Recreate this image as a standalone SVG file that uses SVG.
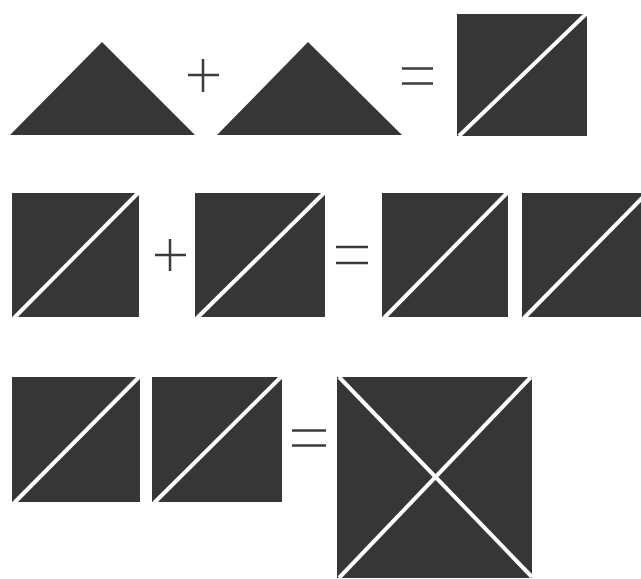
<svg xmlns="http://www.w3.org/2000/svg" width="641" height="579" viewBox="0 0 641 579">
<style>
.shape{fill:#363636}
.cut{stroke:#ffffff;stroke-width:4;stroke-linecap:butt;fill:none}
.op{stroke:#3c3c3c;stroke-width:2.5;fill:none}
</style>
<rect width="641" height="579" fill="#ffffff"/>
<g id="row1">
  <g id="tri1"><polygon class="shape" points="102,42 10,135 195,135"/></g>
  <g id="plus1"><path class="op" d="M188,75 H219 M203,59 V92"/></g>
  <g id="tri2"><polygon class="shape" points="308,42 217,135 402,135"/></g>
  <g id="eq1"><path class="op" d="M402,68.5 H433 M402,83.5 H433"/></g>
  <g id="sq1"><rect class="shape" x="457" y="14" width="130" height="122"/><line class="cut" x1="459" y1="136" x2="587" y2="13"/></g>
</g>
<g id="row2">
  <g id="sq2"><rect class="shape" x="12" y="193" width="127" height="124"/><line class="cut" x1="14" y1="318" x2="139" y2="192"/></g>
  <g id="plus2"><path class="op" d="M155,255 H186 M170,239 V271"/></g>
  <g id="sq3"><rect class="shape" x="195" y="193" width="130" height="124"/><line class="cut" x1="197" y1="318" x2="325" y2="192"/></g>
  <g id="eq2"><path class="op" d="M336,247 H368 M336,263 H368"/></g>
  <g id="sq4"><rect class="shape" x="382" y="193" width="126" height="124"/><line class="cut" x1="384" y1="318" x2="508" y2="192"/></g>
  <g id="sq5"><rect class="shape" x="522" y="193" width="126" height="124"/><line class="cut" x1="524" y1="318" x2="648" y2="192"/></g>
</g>
<g id="row3">
  <g id="sq6"><rect class="shape" x="12" y="377" width="128" height="125"/><line class="cut" x1="14" y1="503" x2="140" y2="376"/></g>
  <g id="sq7"><rect class="shape" x="152" y="377" width="130" height="125"/><line class="cut" x1="154" y1="503" x2="282" y2="376"/></g>
  <g id="eq3"><path class="op" d="M292,430.5 H326 M292,445.5 H326"/></g>
  <g id="sq8"><rect class="shape" x="337" y="377" width="195" height="201"/><line class="cut" x1="339" y1="377" x2="532" y2="577"/><line class="cut" x1="339" y1="578" x2="531" y2="377"/></g>
</g>
</svg>
